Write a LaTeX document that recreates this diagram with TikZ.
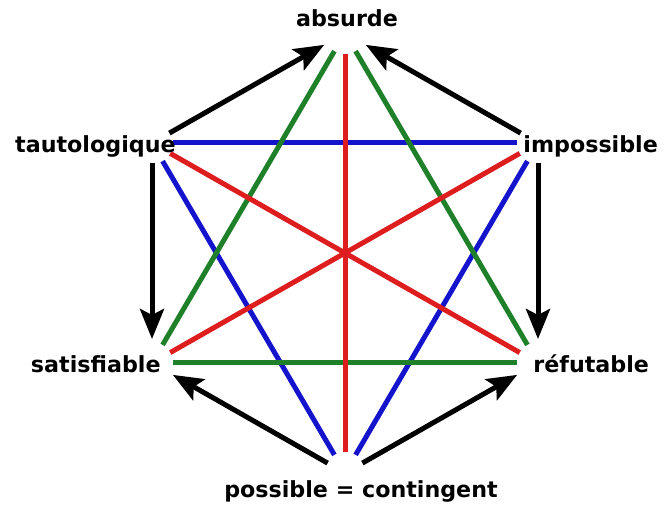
\documentclass[tikz,border=0pt]{standalone}
\usepackage{tikz}
\usetikzlibrary{arrows.meta}
\usepackage{fontspec}
\newfontfamily\hexfont{DejaVu Sans}
\definecolor{hexblue}{RGB}{20,20,205}
\definecolor{hexred}{RGB}{222,30,30}
\definecolor{hexgreen}{RGB}{30,128,40}

\begin{document}
\begin{tikzpicture}[x=0.5pt, y=-0.5pt,
	lbl/.style={font=\hexfont\bfseries\fontsize{11.1}{13}\selectfont, inner sep=0pt},
	link/.style={line width=2.5pt, shorten <=10.5pt, shorten >=10.5pt},
	arr/.style={-{Stealth[length=15pt, width=12pt, inset=3pt]}, line width=2.5pt,
		shorten <=10pt, shorten >=12pt}
	]
	\useasboundingbox (0,0) rectangle (664,506);

	% corners of the hexagon
	\coordinate (a) at (345,33);
	\coordinate (t) at (152,143);
	\coordinate (i) at (538,143);
	\coordinate (s) at (152,363);
	\coordinate (r) at (538,363);
	\coordinate (p) at (345,473);

	\draw[link, hexblue] (t) to (i);
	\draw[link, hexblue] (t) to (p);
	\draw[link, hexblue] (i) to (p);
	\draw[link, hexgreen] (a) to (s);
	\draw[link, hexgreen] (a) to (r);
	\draw[link, hexgreen] (s) to (r);
	\draw[link, hexred] (a) to (p);
	\draw[link, hexred] (t) to (r);
	\draw[link, hexred] (i) to (s);

	\draw[arr] (t) to (a);
	\draw[arr] (i) to (a);
	\draw[arr] (t) to (s);
	\draw[arr] (i) to (r);
	\draw[arr] (p) to (s);
	\draw[arr] (p) to (r);

	\node[lbl, anchor=base] (absurde) at (347,27) {absurde};
	\node[lbl, anchor=base east] (tautologique) at (176,153) {tautologique};
	\node[lbl, anchor=base west] (impossible) at (523,153) {impossible};
	\node[lbl, anchor=base east] (satisfiable) at (161,373) {satisfiable};
	\node[lbl, anchor=base west] (refutable) at (533,373) {réfutable};
	\node[lbl, anchor=base] (possible) at (361,498) {possible = contingent};
\end{tikzpicture}
\end{document}
